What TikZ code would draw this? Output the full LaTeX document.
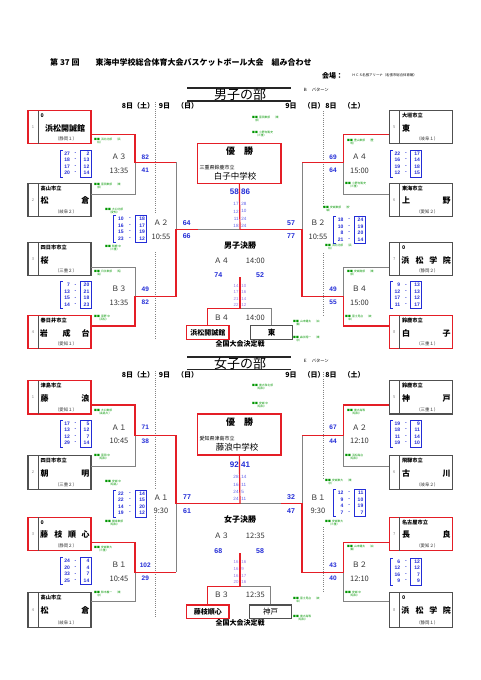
\documentclass[tikz,border=0pt]{standalone}
\usepackage{fontspec}
\setmainfont{Noto Sans CJK JP}
\newfontfamily\numf{Liberation Sans}
\definecolor{rl}{RGB}{228,30,38}
\definecolor{gl}{RGB}{130,130,130}
\definecolor{bx}{RGB}{80,80,80}
\definecolor{sb}{RGB}{35,45,215}
\definecolor{sq}{RGB}{95,95,235}
\definecolor{sv}{RGB}{150,120,230}
\definecolor{gr}{RGB}{0,150,0}
\definecolor{tx}{RGB}{50,50,50}
\newcommand\fsz[1]{\fontsize{#1}{#1}\selectfont}
\tikzset{
 redl/.style={draw=rl, line width=1.2pt},
 grayl/.style={draw=gl, line width=0.9pt},
 teamred/.style={draw=rl, line width=1.3pt, minimum width=63pt, inner sep=0pt},
 teamgray/.style={draw=bx, line width=1.2pt, minimum width=63pt, inner sep=0pt},
 divl/.style={draw=bx, line width=0.6pt},
 numt/.style={font=\fsz{4}, text=gl, inner sep=0pt},
 cityt/.style={font=\fsz{5.2}\bfseries, anchor=west, inner sep=0pt},
 namet/.style={font=\fsz{8}\bfseries, inner sep=0pt},
 preft/.style={font=\fsz{4.4}, inner sep=0pt, text=tx},
 mlab/.style={font=\fsz{7.5}, inner sep=0pt, text=tx},
 mscore/.style={font=\numf\bfseries\fsz{6.5}, text=sb, inner sep=0pt},
 cscore/.style={font=\numf\bfseries\fsz{7}, text=sb, inner sep=0pt},
 fscore/.style={font=\numf\bfseries\fsz{8}, text=sb, inner sep=0pt},
 qnum/.style={font=\numf\bfseries\fsz{5}, text=sb, inner sep=0pt},
 cq/.style={font=\numf\fsz{4.6}, text=sq, inner sep=0pt},
 vq/.style={font=\numf\fsz{4.4}, text=sv, inner sep=0pt},
 qline/.style={draw=sb, line width=0.6pt},
 gtxt/.style={font=\fsz{2.8}, text=gr, inner sep=0pt, anchor=west, align=left},
 dotl/.style={draw=gl, line width=0.6pt, dash pattern=on 1pt off 1.2pt},
 champ/.style={draw=rl, line width=1.4pt, minimum width=83.3pt, inner sep=0pt},
 smred/.style={draw=rl, line width=1.3pt, minimum width=42.3pt, minimum height=13.6pt, inner sep=0pt, font=\fsz{7}\bfseries},
 smgray/.style={draw=bx, line width=1.2pt, minimum width=42.2pt, minimum height=13.6pt, inner sep=0pt, font=\fsz{7.5}\bfseries},
 titlel/.style={draw=black!85, line width=1.1pt},
 datet/.style={font=\fsz{7}\bfseries, inner sep=0pt},
 boldc/.style={font=\fsz{8}\bfseries, inner sep=0pt},
}
% team box: name, xleft, ytop, height, style, number, city, name content, prefecture
\newcommand\tmbox[9]{%
 \begin{scope}[shift={(#2,#3)}]
  \node[#5, minimum height=#4pt] (#1) at (31.5,#4/2) {};
  \draw[divl] (10,0) -- (10,#4);
  \node[numt] at (5,#4/2) {#6};
  \node[cityt] at (12.5,5) {#7};
  #8
  \node[preft] at (38,#4-4.6) {#9};
 \end{scope}}
\newcommand\tjust[2]{\node[namet,anchor=west] at (12.5,17.5) {#1};\node[namet,anchor=east] at (61.5,17.5) {#2};}
\newcommand\tfour[4]{\node[namet] at (16,17.5){#1};\node[namet] at (30.3,17.5){#2};\node[namet] at (44,17.5){#3};\node[namet] at (57.5,17.5){#4};}
\newcommand\tthree[3]{\node[namet] at (15.8,17.5){#1};\node[namet] at (38.5,17.5){#2};\node[namet] at (57.5,17.5){#3};}
\newcommand\tone[1]{\node[namet,anchor=west] at (12.5,17.5){#1};}
% quarter score block: x0, y0, x1, list
\newcommand\qsc[4]{%
 \pgfmathsetmacro\qw{#3-#1}%
 \begin{scope}[shift={(#1,#2)}]
  \draw[qline] (2.5,0) -- (0,0) -- (0,27) -- (2.5,27);
  \draw[qline] (\qw,0) -- (0.65*\qw,0) -- (0.65*\qw,27) -- (\qw,27) -- cycle;
  \foreach \qa/\qb [count=\qi] in {#4} {
    \node[qnum,anchor=east] at (0.31*\qw+0.5,-3+6.5*\qi) {\qa};
    \node[qnum] at (0.5*\qw,-3+6.5*\qi) {-};
    \node[qnum,anchor=east] at (\qw-1.5,-3+6.5*\qi) {\qb};
  }
 \end{scope}}
\newcommand\glab[3]{\node[gtxt] at (#1,#2) {■■\ \ #3};}
% match label: x, y, label, time
\newcommand\mlabel[4]{\node[mlab] at (#1,#2) {#3};\node[mlab] at (#1,#2+13.5) {#4};}
\newcommand\mscores[4]{\node[mscore] at (#1,#2) {#3};\node[mscore] at (#1,#2+13.5) {#4};}
\begin{document}
\begin{tikzpicture}[x=1pt,y=-1pt]
\useasboundingbox (0,0) rectangle (481,680);
\fill[white] (0,0) rectangle (481,680);

% ---------- header ----------
\node[font=\fsz{8}\bfseries, anchor=west, inner sep=0pt] (hd) at (50,62.5) {第 37 回　　東海中学校総合体育大会バスケットボール大会　組み合わせ};
\node[font=\fsz{7}\bfseries, anchor=west, inner sep=0pt] (kj) at (322,75.7) {会場：};
\node[font=\fsz{3.4}, anchor=west, inner sep=0pt] (ven) at (352,75.7) {ＨＣＳ名張アリーナ（名張市総合体育館）};

% ================= MALE =================
\draw[titlel] (187,88) -- (291,88);
\draw[titlel] (187,101) -- (291,101);
\node[font=\fsz{13}, inner sep=0pt] (mt) at (240,94.5) {男子の部};
\node[font=\fsz{4.3}, anchor=west, inner sep=0pt] (mp) at (303,90) {Ｂ　パターン};
\node[datet] at (138,106) {8日（土）};
\node[datet] at (178.5,106) {9日　（日）};
\node[datet] at (305,106) {9日　（日）};
\node[datet] at (345,106) {8日　（土）};
\draw[dotl] (155,102) -- (155,214);
\draw[dotl] (155,252) -- (155,340);
\draw[dotl] (323,111) -- (323,207);
\draw[dotl] (323,253) -- (323,315);

% teams
\tmbox{m1}{28}{110.7}{33}{teamred}{1}{0}{\node[namet] at (37,17.5) {浜松開誠館};}{（静岡１）}
\tmbox{m2}{28}{183.3}{33}{teamgray}{2}{高山市立}{\tjust{松}{倉}}{（岐阜２）}
\tmbox{m3}{28}{242.7}{33}{teamgray}{3}{四日市市立}{\tone{桜}}{（三重２）}
\tmbox{m4}{28}{315.7}{33}{teamred}{4}{春日井市立}{\tthree{岩}{成}{台}}{（愛知１）}
\tmbox{m5}{389.3}{110.7}{33}{teamgray}{5}{大垣市立}{\tone{東}}{（岐阜１）}
\tmbox{m6}{389.3}{183.3}{33}{teamgray}{6}{東海市立}{\tjust{上}{野}}{（愛知２）}
\tmbox{m7}{389.3}{242.7}{33}{teamgray}{7}{0}{\tfour{浜}{松}{学}{院}}{（静岡２）}
\tmbox{m8}{389.3}{315.7}{33}{teamred}{8}{鈴鹿市立}{\tjust{白}{子}}{（三重１）}

% connectors male
\coordinate (m1o) at (91,134.3);   \coordinate (m2o) at (91,194);
\coordinate (m3o) at (91,267.3);   \coordinate (m4o) at (91,326);
\coordinate (jA3) at (135,162.3);  \coordinate (jB3) at (135,296.7);
\coordinate (jA3r) at (176,162.3); \coordinate (jB3r) at (176,296.7);
\coordinate (jA2) at (176,229.5);  \coordinate (jA2s) at (198,229.5);
\coordinate (cM) at (240,229.5);
\coordinate (m5o) at (389.3,134.3); \coordinate (m6o) at (389.3,194);
\coordinate (m7o) at (389.3,267.3); \coordinate (m8o) at (389.3,326);
\coordinate (jA4) at (343.3,162.3); \coordinate (jB4) at (343.3,296.7);
\coordinate (jA4l) at (302,162.3);  \coordinate (jB4l) at (302,296.7);
\coordinate (jB2) at (302,229.5);
\draw[grayl] (m2o) -| (jA3);
\draw[grayl] (m3o) -| (jB3);
\draw[grayl] (jA3r) -- (jA2);
\draw[grayl] (jA2s) -- (cM);
\draw[grayl] (m6o) -| (jA4);
\draw[grayl] (m7o) -| (jB4);
\draw[grayl] (jA4l) -- (jB2);
\draw[redl] (m1o) -| (jA3) -- (jA3r);
\draw[redl] (m4o) -| (jB3) -- (jB3r) -- (jA2) -- (jA2s);
\draw[redl] (m5o) -| (jA4) -- (jA4l);
\draw[redl] (m8o) -| (jB4) -- (jB4l) -- (jB2) -- (cM);

% champion male
\node[champ, minimum height=40pt] (cm) at (239.35,163.3) {};
\node[font=\fsz{9}\bfseries, inner sep=0pt] at (239.5,151.5) {優　勝};
\node[font=\fsz{5}, anchor=west, inner sep=0pt] at (199.5,167.3) {三重県鈴鹿市立};
\node[font=\fsz{8.5}, inner sep=0pt] at (235,175.8) {白子中学校};
\draw[redl] (cm.south) -- (cM);
\node[fscore, anchor=east] at (239,191.7) {58};
\node[fscore, anchor=west] at (241,191.7) {86};
\foreach \qa/\qb [count=\qi] in {17/28,12/10,11/24,18/24} {
  \node[cq, anchor=east] at (238.8,204+7.4*\qi-7.4) {\qa};
  \node[cq, anchor=west] at (241.2,204+7.4*\qi-7.4) {\qb};
}
\node[cscore] at (186.7,223.3) {64};
\node[cscore] at (186.7,235.7) {66};
\node[cscore] at (291,223.3) {57};
\node[cscore] at (291,235.7) {77};
\node[boldc] at (240,245) {男子決勝};
\node[mlab] at (221.7,260.7) {Ａ４};
\node[mlab] at (255.3,260.7) {14:00};
\node[cscore] at (218.3,275) {74};
\node[cscore] at (260,275) {52};
\coordinate (mfl) at (240,277);
\coordinate (mb4) at (240,308.3);
\foreach \qa/\qb [count=\qi] in {14/10,17/16,21/14,22/12} {
  \node[vq, anchor=east] at (238.8,285.7+6.45*\qi-6.45) {\qa};
  \node[vq, anchor=west] at (241.2,285.7+6.45*\qi-6.45) {\qb};
}
\node[smred] (mhb) at (207.85,332.5) {浜松開誠館};
\node[smgray] (mhg) at (271.7,332.5) {東};
\draw[grayl] (mb4) -| (mhg.north);
\draw[redl] (mfl) -- (mb4) -| (mhb.north);
\node[mlab] at (221.7,317.7) {Ｂ４};
\node[mlab] at (255.3,317.7) {14:00};
\node[font=\fsz{7}\bfseries, inner sep=0pt] at (240,344) {全国大会決定戦};

% match labels male
\mlabel{119}{157}{Ａ３}{13:35}  \mscores{145.3}{157}{82}{41}
\mlabel{119}{289}{Ｂ３}{13:35}  \mscores{145.3}{289}{49}{82}
\mlabel{161}{223}{Ａ２}{10:55}
\mlabel{359.5}{157}{Ａ４}{15:00} \mscores{333}{157}{69}{64}
\mlabel{359.5}{289}{Ｂ４}{15:00} \mscores{333}{289}{49}{55}
\mlabel{318}{223}{Ｂ２}{10:55}
\qsc{60}{150}{91}{27/2,18/13,17/12,20/14}
\qsc{60}{281.7}{91}{7/20,13/21,15/18,14/23}
\qsc{113}{215.5}{146.7}{10/18,16/17,15/19,23/12}
\qsc{390}{150}{421.7}{22/17,16/14,19/18,12/15}
\qsc{390}{281.7}{421.7}{9/13,12/13,17/12,11/17}
\qsc{333.3}{216.5}{365}{18/24,10/19,8/20,21/14}

% green labels male
\glab{94}{141}{浜北北部　（浜\\\ \ \ \ \ 松）}
\glab{94}{186}{富田東部　（東\\\ \ \ \ \ 部）}
\glab{105}{211}{大口北部\\\ \ \ \ \ （愛知）}
\glab{105}{248}{鈴鹿 中\\\ \ \ \ \ （三重）}
\glab{94}{273}{日永東部　（昭\\\ \ \ \ \ 島）}
\glab{94}{318}{富野 中\\\ \ \ \ \ （浜松）}
\glab{252}{119}{富田東部　（東\\\ \ \ \ \ 部）}
\glab{252}{134}{小野寺篤史\\\ \ \ \ \ （三重）}
\glab{347}{142}{豊山東部　（豊\\\ \ \ \ \ 明）}
\glab{345}{185}{小野寺篤史\\\ \ \ \ \ （三重）}
\glab{323}{209}{安城東部　（安\\\ \ \ \ \ 城）}
\glab{325}{247}{浜北北部　（浜\\\ \ \ \ \ 松）}
\glab{347}{273}{安城南部　（東\\\ \ \ \ \ 部）}
\glab{345}{318}{富士見台　（岐\\\ \ \ \ \ 阜）}
\glab{293}{323}{山本健太　（白\\\ \ \ \ \ 鷹）}
\glab{293}{339}{森永翔一　（東\\\ \ \ \ \ 京）}

% ================= FEMALE =================
\draw[titlel] (187,357) -- (291,357);
\draw[titlel] (187,369.5) -- (291,369.5);
\node[font=\fsz{13}, inner sep=0pt] (ft) at (240,363.3) {女子の部};
\node[font=\fsz{4.3}, anchor=west, inner sep=0pt] (fp) at (303,360.5) {Ｅ　パターン};
\node[datet] at (138,375) {8日（土）};
\node[datet] at (178.5,375) {9日　（日）};
\node[datet] at (305,375) {9日　（日）};
\node[datet] at (345,375) {8日　（土）};
\draw[dotl] (155,371) -- (155,488);
\draw[dotl] (155,515) -- (155,617);
\draw[dotl] (323,372) -- (323,478);
\draw[dotl] (323,527) -- (323,592);

\tmbox{f1}{28}{380.7}{33.3}{teamred}{1}{津島市立}{\tjust{藤}{浪}}{（愛知１）}
\tmbox{f2}{28}{455.7}{33.6}{teamgray}{2}{四日市市立}{\tjust{朝}{明}}{（三重２）}
\tmbox{f3}{28}{517.3}{33.4}{teamred}{3}{0}{\tfour{藤}{枝}{順}{心}}{（静岡２）}
\tmbox{f4}{28}{592.5}{34.8}{teamgray}{4}{高山市立}{\tjust{松}{倉}}{（岐阜１）}
\tmbox{f5}{389.3}{380.7}{33.3}{teamgray}{5}{鈴鹿市立}{\tjust{神}{戸}}{（三重１）}
\tmbox{f6}{389.3}{455.7}{33.6}{teamgray}{6}{飛騨市立}{\tjust{古}{川}}{（岐阜２）}
\tmbox{f7}{389.3}{517.3}{33.4}{teamred}{7}{名古屋市立}{\tjust{長}{良}}{（愛知２）}
\tmbox{f8}{389.3}{592.5}{34.8}{teamgray}{8}{0}{\tfour{浜}{松}{学}{院}}{（静岡１）}

\coordinate (f1o) at (91,405);     \coordinate (f2o) at (91,466);
\coordinate (f3o) at (91,542.3);   \coordinate (f4o) at (91,601.7);
\coordinate (jA1f) at (135,435.5); \coordinate (jB1f) at (135,572.2);
\coordinate (jA1r) at (176,435.5); \coordinate (jB1r) at (176,572.2);
\coordinate (jA1s) at (176,503.8);
\coordinate (cF) at (240,503.8);
\coordinate (f5o) at (389.3,405);   \coordinate (f6o) at (389.3,466);
\coordinate (f7o) at (389.3,542.3); \coordinate (f8o) at (389.3,601.7);
\coordinate (jA2f) at (343.3,435.5); \coordinate (jB2f) at (343.3,572.2);
\coordinate (jA2l) at (302,435.5);   \coordinate (jB2l) at (302,572.2);
\coordinate (jB1s) at (302,503.8);   \coordinate (jB1t) at (281,503.8);
\draw[grayl] (f2o) -| (jA1f);
\draw[grayl] (f4o) -| (jB1f);
\draw[grayl] (jB1r) -- (jA1s);
\draw[grayl] (f6o) -| (jA2f);
\draw[grayl] (f8o) -| (jB2f);
\draw[grayl] (jA2l) -- (jB1s);
\draw[grayl] (jB1t) -- (cF);
\draw[redl] (f1o) -| (jA1f) -- (jA1r) -- (jA1s) -- (cF);
\draw[redl] (f3o) -| (jB1f) -- (jB1r);
\draw[redl] (f5o) -| (jA2f) -- (jA2l);
\draw[redl] (f7o) -| (jB2f) -- (jB2l) -- (jB1s) -- (jB1t);

\node[champ, minimum height=41pt] (cf) at (239.35,434.5) {};
\node[font=\fsz{9}\bfseries, inner sep=0pt] at (239.5,422) {優　勝};
\node[font=\fsz{5}, anchor=west, inner sep=0pt] at (199.5,438.3) {愛知県津島市立};
\node[font=\fsz{8.5}, inner sep=0pt] at (237,447.3) {藤浪中学校};
\draw[redl] (cf.south) -- (cF);
\node[fscore, anchor=east] at (239,465) {92};
\node[fscore, anchor=west] at (241,465) {41};
\foreach \qa/\qb [count=\qi] in {28/14,16/11,24/5,24/11} {
  \node[cq, anchor=east] at (238.8,477.3+7.35*\qi-7.35) {\qa};
  \node[cq, anchor=west] at (241.2,477.3+7.35*\qi-7.35) {\qb};
}
\node[cscore] at (187,496.7) {77};
\node[cscore] at (187,510.7) {61};
\node[cscore] at (291,496.7) {32};
\node[cscore] at (291,510.7) {47};
\node[boldc] at (240,519) {女子決勝};
\node[mlab] at (221.7,535.7) {Ａ３};
\node[mlab] at (255.3,535.7) {12:35};
\node[cscore] at (218.3,550.7) {68};
\node[cscore] at (260,550.7) {58};
\coordinate (ffl) at (240,553);
\coordinate (fb3) at (240,586.7);
\foreach \qa/\qb [count=\qi] in {16/16,16/9,16/17,20/16} {
  \node[vq, anchor=east] at (238.8,561.7+6.9*\qi-6.9) {\qa};
  \node[vq, anchor=west] at (241.2,561.7+6.9*\qi-6.9) {\qb};
}
\node[smred] (fhb) at (207.85,611.7) {藤枝順心};
\node[smgray, font=\fsz{7.5}] (fhg) at (270.6,611.7) {神戸};
\draw[grayl] (fb3) -| (fhg.north);
\draw[redl] (ffl) -- (fb3) -| (fhb.north);
\node[mlab] at (221.7,595) {Ｂ３};
\node[mlab] at (255.3,595) {12:35};
\node[font=\fsz{7}\bfseries, inner sep=0pt] at (240,623) {全国大会決定戦};

\mlabel{119}{427.7}{Ａ１}{10:45}  \mscores{145.3}{427.7}{71}{38}
\mlabel{119}{565}{Ｂ１}{10:45}    \mscores{145.3}{565}{102}{29}
\mlabel{161}{497.3}{Ａ１}{9:30}
\mlabel{359.5}{427.7}{Ａ２}{12:10} \mscores{333}{427.7}{67}{44}
\mlabel{359.5}{565}{Ｂ２}{12:10}   \mscores{333}{565}{43}{40}
\mlabel{318}{497.3}{Ｂ１}{9:30}
\qsc{60}{420}{91}{17/5,13/12,12/7,29/14}
\qsc{60}{557.7}{91}{24/4,20/4,33/7,25/14}
\qsc{113}{490}{146.7}{22/14,22/15,14/20,19/12}
\qsc{390}{420}{421.7}{19/9,18/11,11/14,19/10}
\qsc{390}{558}{421.7}{6/12,12/12,16/7,9/9}
\qsc{333.3}{489.5}{365}{12/11,9/10,4/19,7/7}

\glab{94}{412}{大口東部\\\ \ \ \ \ （高島大）}
\glab{94}{457}{富田 中\\\ \ \ \ \ （昭和）}
\glab{105}{483}{安城 中\\\ \ \ \ \ （昭島）}
\glab{105}{523}{御幸東部\\\ \ \ \ \ （昭和）}
\glab{94}{549}{安城東大\\\ \ \ \ \ （三重）}
\glab{94}{594}{鈴木義一　（東\\\ \ \ \ \ 京）}
\glab{252}{387}{東大和北部\\\ \ \ \ \ （昭和）}
\glab{252}{405}{安城 中\\\ \ \ \ \ （昭和）}
\glab{347}{412}{東大高等\\\ \ \ \ \ （昭和）}
\glab{345}{457}{浜松高台\\\ \ \ \ \ （昭和）}
\glab{325}{482}{安城東大　（東\\\ \ \ \ \ 京）}
\glab{325}{523}{安城東大\\\ \ \ \ \ （三重）}
\glab{347}{548}{山本健太　（白\\\ \ \ \ \ 鷹）}
\glab{345}{594}{安城 中\\\ \ \ \ \ （昭和）}
\glab{293}{600}{富士見台　（岐\\\ \ \ \ \ 阜）}
\glab{293}{618}{東大高等\\\ \ \ \ \ （昭和）}
\end{tikzpicture}
\end{document}
